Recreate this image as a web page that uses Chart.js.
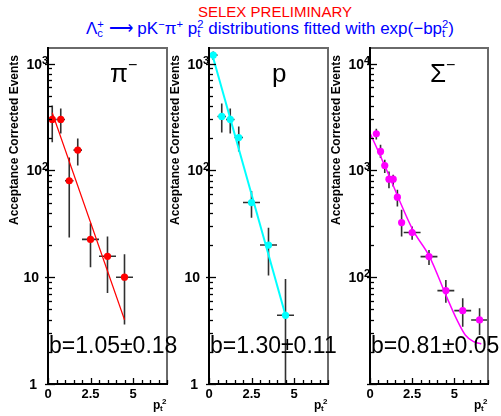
<!DOCTYPE html>
<html>
<head>
<meta charset="utf-8">
<script src="https://cdn.jsdelivr.net/npm/chart.js@4/dist/chart.umd.min.js"></script>
<style>
  html, body { margin: 0; padding: 0; background: #fff; }
  body { position: relative; width: 501px; height: 416px; overflow: hidden;
         font-family: "Liberation Sans", Arial, Helvetica, sans-serif; }
  canvas { position: absolute; left: 0; top: 0; }
  .title { position: absolute; left: 0; text-align: center; white-space: nowrap; }
  #t1 { top: 3px; width: 550px; color: #ff0000; font-size: 15px; line-height: 17px; }
  #t2 { top: 19px; width: 540px; color: #0000ff; font-size: 17px; line-height: 19px; }
  .st { display: inline-block; vertical-align: -0.3em; font-size: 0.66em; line-height: 0.85em; text-align: left; }
  .st span { display: block; }
  sup { font-size: 0.66em; vertical-align: 0.55em; line-height: 0; }
</style>
</head>
<body>
<div class="title" id="t1">SELEX PRELIMINARY</div>
<div class="title" id="t2">Λ<span class="st"><span>+</span><span>c</span></span> ⟶ pK<sup>−</sup>π<sup>+</sup> p<span class="st"><span>2</span><span>t</span></span> distributions fitted with exp(−bp<span class="st"><span>2</span><span>t</span></span>)</div>
<canvas id="cPi" width="501" height="416"></canvas>
<canvas id="cP" width="501" height="416"></canvas>
<canvas id="cSig" width="501" height="416"></canvas>
<script>
// ---- π− sample: bin centres in pt², corrected yields and errors ----
const piX    = [0.25, 0.75, 1.25, 1.75, 2.5, 3.5, 4.5];
const piXerr = [0.25, 0.25, 0.25, 0.25, 0.5, 0.5, 0.5];
const piY    = [300, 300, 80, 155, 22.6, 15.7, 10];
const piLo   = [183, 222, 23.6, 111, 12.4, 7.1, 3.6];
const piHi   = [405, 380, 132, 199, 32, 24, 16.4];
const piFitX = [0.25, 4.5];
const piFitY = [347, 4.0];

// ---- p sample ----
const pX    = [0.25, 0.75, 1.25, 1.75, 2.5, 3.5, 4.5];
const pXerr = [0.25, 0.25, 0.25, 0.25, 0.5, 0.5, 0.5];
const pY    = [1200, 320, 300, 203, 50, 20, 4.4];
const pLo   = [1080, 226, 222, 150, 36, 10.4, 0.9];
const pHi   = [1300, 423, 380, 258, 64, 29, 9.6];
const pFitX = [0.25, 4.5];
const pFitY = [1130, 4.4];

// ---- Σ− sample ----
const sX    = [0.375, 0.625, 0.875, 1.125, 1.375, 1.625, 1.875, 2.5, 3.5, 4.5, 5.5, 6.5];
const sXerr = [0.125, 0.125, 0.125, 0.125, 0.125, 0.125, 0.125, 0.5, 0.5, 0.5, 0.5, 0.5];
const sY    = [2203, 1504, 1112, 828, 828, 562, 325, 262, 156, 74.9, 48.6, 39.8];
const sLo   = [1950, 1304, 944, 682, 707, 459, 240, 224, 130, 57.8, 34.4, 28.8];
const sHi   = [2450, 1738, 1257, 977, 910, 658, 427, 298, 180, 94.4, 63.6, 51.2];
const sFitX = [0.0, 0.87, 2.54, 3.53, 4.54, 5.16, 5.65, 6.15, 6.6];
const sFitY = [2238, 1112, 277, 156, 65.8, 39.8, 28.8, 24.9, 23.7];

// ---- axis ticks and labels ----
const xTickVals   = [0, 2.5, 5];
const xTickLabels = ['0', '2.5', '5'];
const yTicksLow   = [1, 10, 100, 1000];
const yLabelsLow  = ['1', '10', '10^2', '10^3'];
const yTicksHigh  = [100, 1000, 10000];
const yLabelsHigh = ['10^2', '10^3', '10^4'];
const panelNames   = ['π', 'p', 'Σ'];
const panelCharges = ['−', '', '−'];
const fitNotes     = ['b=1.05±0.18', 'b=1.30±0.11', 'b=0.81±0.05'];
const yTitle = 'Acceptance Corrected Events';

const FONT = '"Liberation Sans", Arial, Helvetica, sans-serif';
const panelCfg = {};

// ROOT-style frame: inward ticks, superscript decade labels, error bars
const rootAxes = {
  id: 'rootAxes',
  beforeDatasetsDraw(chart) {
    const c = panelCfg[chart.canvas.id];
    const { ctx, chartArea: a } = chart;
    const xs = chart.scales.x, ys = chart.scales.y;
    ctx.save();
    ctx.beginPath();
    ctx.rect(a.left, a.top, a.right - a.left, a.bottom - a.top);
    ctx.clip();
    ctx.strokeStyle = '#303030';
    ctx.lineWidth = 1.6;
    for (let i = 0; i < c.x.length; i++) {
      const px = xs.getPixelForValue(c.x[i]);
      const py = ys.getPixelForValue(c.y[i]);
      ctx.beginPath();
      ctx.moveTo(px, ys.getPixelForValue(c.lo[i]));
      ctx.lineTo(px, ys.getPixelForValue(c.hi[i]));
      ctx.moveTo(xs.getPixelForValue(c.x[i] - c.xerr[i]), py);
      ctx.lineTo(xs.getPixelForValue(c.x[i] + c.xerr[i]), py);
      ctx.stroke();
    }
    ctx.restore();
  },
  afterDraw(chart) {
    const c = panelCfg[chart.canvas.id];
    const { ctx, chartArea: a } = chart;
    const xs = chart.scales.x, ys = chart.scales.y;
    ctx.save();

    // frame
    ctx.lineWidth = 2;
    ctx.strokeStyle = '#6a6a6a';
    ctx.beginPath();
    ctx.moveTo(a.left, a.top); ctx.lineTo(a.right, a.top); ctx.lineTo(a.right, a.bottom);
    ctx.stroke();
    ctx.strokeStyle = '#000';
    ctx.beginPath();
    ctx.moveTo(a.left, a.top - 1); ctx.lineTo(a.left, a.bottom); ctx.lineTo(a.right + 1, a.bottom);
    ctx.stroke();

    // x ticks every 0.5, longer at labelled values
    ctx.lineWidth = 1.3;
    for (let v = xs.min; v <= xs.max + 1e-9; v += 0.5) {
      const px = Math.round(xs.getPixelForValue(v)) + 0.5;
      const major = xTickVals.some(t => Math.abs(t - v) < 1e-9);
      ctx.beginPath();
      ctx.moveTo(px, a.bottom);
      ctx.lineTo(px, a.bottom - (major ? 6 : 4));
      ctx.stroke();
    }
    // y ticks: decades and 2..9 subdivisions
    const d0 = Math.floor(Math.log10(ys.min)), d1 = Math.ceil(Math.log10(ys.max));
    for (let d = d0; d <= d1; d++) {
      for (let m = 1; m <= 9; m++) {
        const v = m * Math.pow(10, d);
        if (v < ys.min * 0.999 || v > ys.max) continue;
        const py = Math.round(ys.getPixelForValue(v)) + 0.5;
        ctx.beginPath();
        if (m === 1) { ctx.moveTo(a.left - 3, py); ctx.lineTo(a.left + 7, py); }
        else { ctx.moveTo(a.left, py); ctx.lineTo(a.left + 4, py); }
        ctx.stroke();
      }
    }

    // x tick labels
    ctx.fillStyle = '#000';
    ctx.font = 'bold 13px ' + FONT;
    ctx.textAlign = 'center';
    ctx.textBaseline = 'alphabetic';
    xTickVals.forEach((v, i) => {
      ctx.fillText(xTickLabels[i], xs.getPixelForValue(v), a.bottom + 14);
    });

    // y tick labels (10^n drawn with a raised exponent)
    c.yTicks.forEach((v, i) => {
      const py = ys.getPixelForValue(v);
      const lab = c.yLabels[i];
      if (lab.indexOf('^') >= 0) {
        const [base, ex] = lab.split('^');
        ctx.font = 'bold 14px ' + FONT;
        ctx.textAlign = 'right';
        ctx.fillText(base, a.left - 6, py + 5);
        ctx.font = 'bold 11px ' + FONT;
        ctx.textAlign = 'left';
        ctx.fillText(ex, a.left - 6, py);
      } else {
        ctx.font = 'bold 14px ' + FONT;
        ctx.textAlign = 'right';
        ctx.fillText(lab, a.left - (lab.length > 1 ? 9 : 11), py + 5);
      }
    });

    // x axis title p_t^2
    const xr = a.right;
    ctx.textAlign = 'left';
    ctx.font = 'bold 12px ' + FONT;
    ctx.fillText('p', xr - 14, a.bottom + 25);
    ctx.font = 'bold 8px ' + FONT;
    ctx.fillText('t', xr - 7, a.bottom + 27);
    ctx.fillText('2', xr - 5, a.bottom + 20);

    // y axis title
    ctx.save();
    ctx.translate(a.left - 33, 140);
    ctx.rotate(-Math.PI / 2);
    ctx.font = 'bold 12px ' + FONT;
    ctx.textAlign = 'center';
    ctx.textBaseline = 'middle';
    ctx.fillText(yTitle, 0, 0);
    ctx.restore();

    // particle name
    ctx.textAlign = 'left';
    ctx.textBaseline = 'alphabetic';
    ctx.font = '26px ' + FONT;
    ctx.fillText(c.name, c.nameX, 82);
    if (c.charge) {
      const w = ctx.measureText(c.name).width;
      ctx.font = '16px ' + FONT;
      ctx.fillText(c.charge, c.nameX + w, 70);
    }

    // fitted slope
    ctx.font = '23px ' + FONT;
    ctx.fillText(c.note, a.left + 1, 353);
    ctx.restore();
  }
};

function points(xs, ys) { return xs.map((x, i) => ({ x: x, y: ys[i] })); }

function makePanel(id, cfg) {
  panelCfg[id] = cfg;
  return new Chart(document.getElementById(id), {
    type: 'scatter',
    data: {
      datasets: [
        { type: 'scatter', data: points(cfg.x, cfg.y), pointRadius: 3.6, pointBorderWidth: 0,
          pointBackgroundColor: cfg.color, order: 0 },
        { type: 'line', data: points(cfg.fitX, cfg.fitY), borderColor: cfg.color,
          borderWidth: cfg.lineWidth, pointRadius: 0, fill: false, tension: 0,
          cubicInterpolationMode: cfg.smooth ? 'monotone' : 'default', order: 1 }
      ]
    },
    options: {
      responsive: false, animation: false, events: [],
      layout: { padding: cfg.pad },
      scales: {
        x: { type: 'linear', min: 0, max: 7, display: false },
        y: { type: 'logarithmic', min: cfg.yMin, max: cfg.yMax, display: false }
      },
      plugins: { legend: { display: false }, tooltip: { enabled: false } }
    },
    plugins: [rootAxes]
  });
}

makePanel('cPi', {
  x: piX, xerr: piXerr, y: piY, lo: piLo, hi: piHi, fitX: piFitX, fitY: piFitY,
  color: '#ff0000', lineWidth: 1.2, yMin: 1, yMax: 1400,
  yTicks: yTicksLow, yLabels: yLabelsLow,
  name: panelNames[0], charge: panelCharges[0], nameX: 110, note: fitNotes[0],
  pad: { left: 48, right: 334, top: 48, bottom: 32 }
});
makePanel('cP', {
  x: pX, xerr: pXerr, y: pY, lo: pLo, hi: pHi, fitX: pFitX, fitY: pFitY,
  color: '#00ffff', lineWidth: 2, yMin: 1, yMax: 1400,
  yTicks: yTicksLow, yLabels: yLabelsLow,
  name: panelNames[1], charge: panelCharges[1], nameX: 272, note: fitNotes[1],
  pad: { left: 209, right: 173, top: 48, bottom: 32 }
});
makePanel('cSig', {
  x: sX, xerr: sXerr, y: sY, lo: sLo, hi: sHi, fitX: sFitX, fitY: sFitY, smooth: true,
  color: '#ff00ff', lineWidth: 1.5, yMin: 10, yMax: 14000,
  yTicks: yTicksHigh, yLabels: yLabelsHigh,
  name: panelNames[2], charge: panelCharges[2], nameX: 430, note: fitNotes[2],
  pad: { left: 370, right: 13, top: 48, bottom: 32 }
});
</script>
</body>
</html>
